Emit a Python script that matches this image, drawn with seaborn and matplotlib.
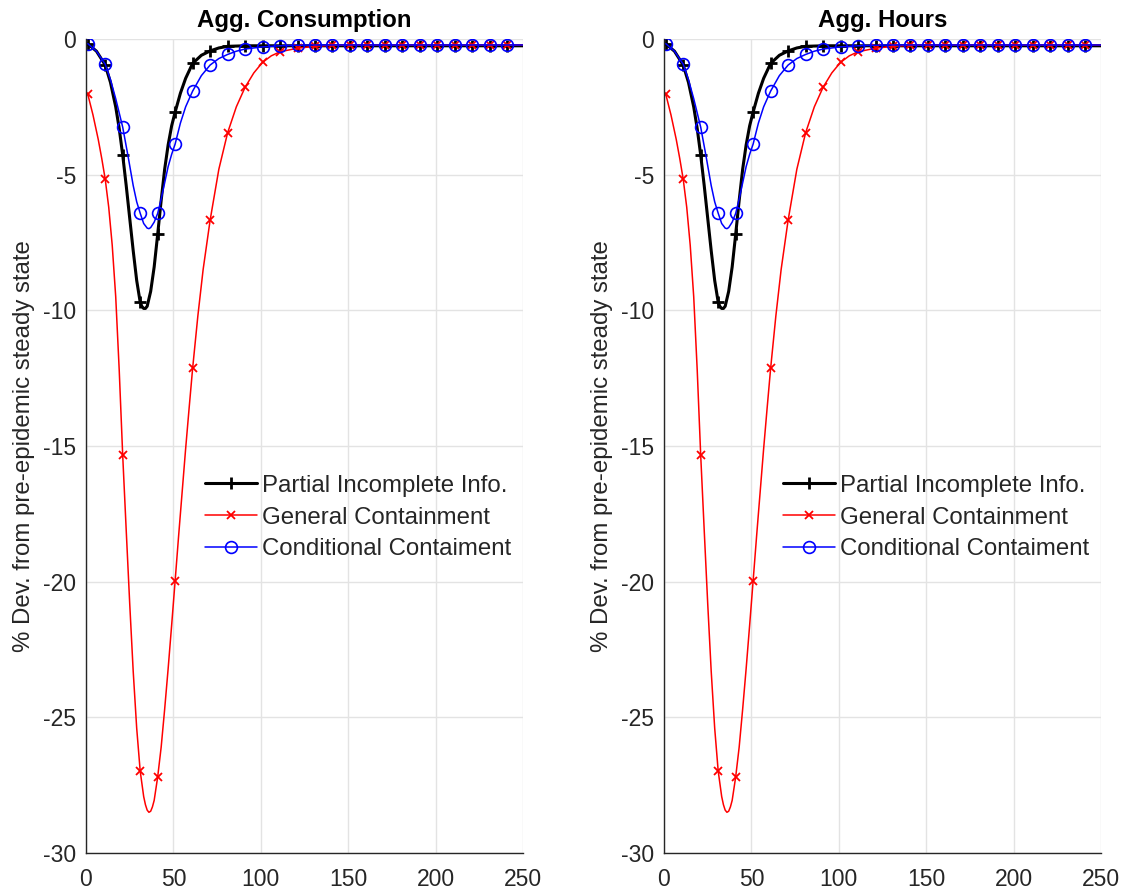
import matplotlib
matplotlib.use("Agg")
import matplotlib.pyplot as plt
import seaborn as sns
import pandas as pd

# ---- data (time in periods, % deviation) ----
tail_t = [91, 101, 111, 121, 131, 141, 151, 161, 171, 181, 191, 201, 211, 221, 231, 241, 250]

t_partial = [1, 6, 11, 14, 17, 19, 21, 23, 25, 27, 29, 31, 32, 33, 34, 35, 37, 39, 41, 43, 45,
             47, 49, 51, 54, 57, 61, 66, 71, 76, 81, 86] + tail_t
v_partial = [-0.18, -0.45, -0.96, -1.6, -2.5, -3.3, -4.28, -5.4, -6.6, -7.8, -8.9, -9.7, -9.86,
             -9.93, -9.93, -9.85, -9.3, -8.4, -7.2, -5.95, -4.8, -3.9, -3.2, -2.69, -2.0, -1.45,
             -0.9, -0.6, -0.44, -0.33, -0.27, -0.26] + [-0.25] * len(tail_t)

t_general = [1, 4, 7, 9, 11, 13, 15, 17, 19, 21, 23, 25, 27, 29, 31, 33, 34, 35, 36, 37, 38,
             39, 41, 43, 45, 47, 49, 51, 53, 55, 57, 59, 61, 64, 67, 71, 76, 81, 86, 91, 96,
             101, 106, 111, 121, 131, 141, 151, 161, 171, 181, 191, 201, 211, 221, 231, 241, 250]
v_general = [-2.03, -2.8, -3.7, -4.4, -5.17, -6.2, -7.6, -9.5, -12.2, -15.35, -18.1, -20.8,
             -23.3, -25.4, -26.98, -27.92, -28.22, -28.42, -28.5, -28.46, -28.3, -28.06, -27.2,
             -26.1, -24.7, -23.2, -21.6, -19.96, -18.3, -16.7, -15.1, -13.6, -12.14, -10.2,
             -8.5, -6.68, -4.8, -3.46, -2.5, -1.78, -1.25, -0.86, -0.62, -0.47, -0.34, -0.27,
             -0.23, -0.22, -0.22, -0.22, -0.22, -0.22, -0.22, -0.22, -0.22, -0.22, -0.22, -0.22]

t_conditional = [1, 6, 11, 14, 17, 21, 24, 27, 29, 31, 33, 35, 36, 37, 39, 41, 43, 45, 47, 49,
                 51, 54, 57, 61, 66, 71, 76, 81, 86] + tail_t
v_conditional = [-0.17, -0.45, -0.93, -1.5, -2.2, -3.25, -4.3, -5.4, -6.0, -6.42, -6.8, -6.97,
                 -6.99, -6.95, -6.75, -6.43, -5.9, -5.3, -4.7, -4.25, -3.87, -3.1, -2.5, -1.92,
                 -1.35, -0.96, -0.72, -0.57, -0.45, -0.37, -0.29, -0.25, -0.23] + \
                [-0.22] * (len(tail_t) - 4)

series_labels = ["Partial Incomplete Info.", "General Containment", "Conditional Contaiment"]
panel_titles = ["Agg. Consumption", "Agg. Hours"]
ylabel_text = "% Dev. from pre-epidemic steady state"
xticks = [0, 50, 100, 150, 200, 250]
yticks = [0, -5, -10, -15, -20, -25, -30]

# ---- style ----
sns.set_style("white")
plt.rcParams["font.family"] = ["Liberation Sans", "DejaVu Sans"]

fig = plt.figure(figsize=(11.33, 8.94), dpi=100)
W, H = 1133, 894
axes = [fig.add_axes([86 / W, (H - 853) / H, 437 / W, 814 / H]),
        fig.add_axes([664 / W, (H - 853) / H, 437 / W, 814 / H])]

styles = [
    dict(color="black", linewidth=2.2, marker="+", markersize=8, markeredgewidth=2.0,
         markerfacecolor="black", markeredgecolor="black"),
    dict(color="red", linewidth=1.1, marker="x", markersize=5.5, markeredgewidth=1.3,
         markeredgecolor="red"),
    dict(color="blue", linewidth=1.1, marker="o", markersize=8.5, markeredgewidth=1.2,
         markerfacecolor="none", markeredgecolor="blue"),
]
data = [(t_partial, v_partial), (t_general, v_general), (t_conditional, v_conditional)]

dark = "#262626"
for ax, title in zip(axes, panel_titles):
    for (tt, vv), st, lab in zip(data, styles, series_labels):
        df = pd.DataFrame({"t": tt, "v": vv})
        mk = [i for i, t in enumerate(tt) if (t - 1) % 10 == 0]
        sns.lineplot(data=df, x="t", y="v", ax=ax, markevery=mk, label=lab,
                     legend=False, **st)
    ax.set_xlim(0, 250)
    ax.set_ylim(-30, 0)
    ax.set_xticks(xticks)
    ax.set_yticks(yticks)
    ax.set_xticklabels([str(x) for x in xticks])
    ax.set_yticklabels([str(y) for y in yticks])
    ax.grid(True, color="#e3e3e3", linewidth=1.0)
    ax.set_axisbelow(True)
    for s in ["top", "right"]:
        ax.spines[s].set_visible(False)
    for s in ["left", "bottom"]:
        ax.spines[s].set_color(dark)
        ax.spines[s].set_linewidth(1.0)
    ax.tick_params(axis="both", direction="in", length=5, width=1.0, color=dark,
                   labelcolor=dark, labelsize=16.5)
    ax.tick_params(axis="y", pad=7)
    ax.tick_params(axis="x", pad=11)
    ax.set_xlabel("")
    ax.set_ylabel(ylabel_text, fontsize=17.3, color=dark, labelpad=6)
    ax.set_title(title, fontsize=17.3, fontweight="bold", color="black", pad=9)
    handles = ax.get_lines()[:3]
    ax.legend(handles, series_labels, loc="upper left", bbox_to_anchor=(0.272, 0.4645),
              frameon=False, fontsize=17.3, handlelength=2.17, handletextpad=0.2,
              labelspacing=0.4, borderpad=0, borderaxespad=0)

fig.savefig("out.png", dpi=100)
